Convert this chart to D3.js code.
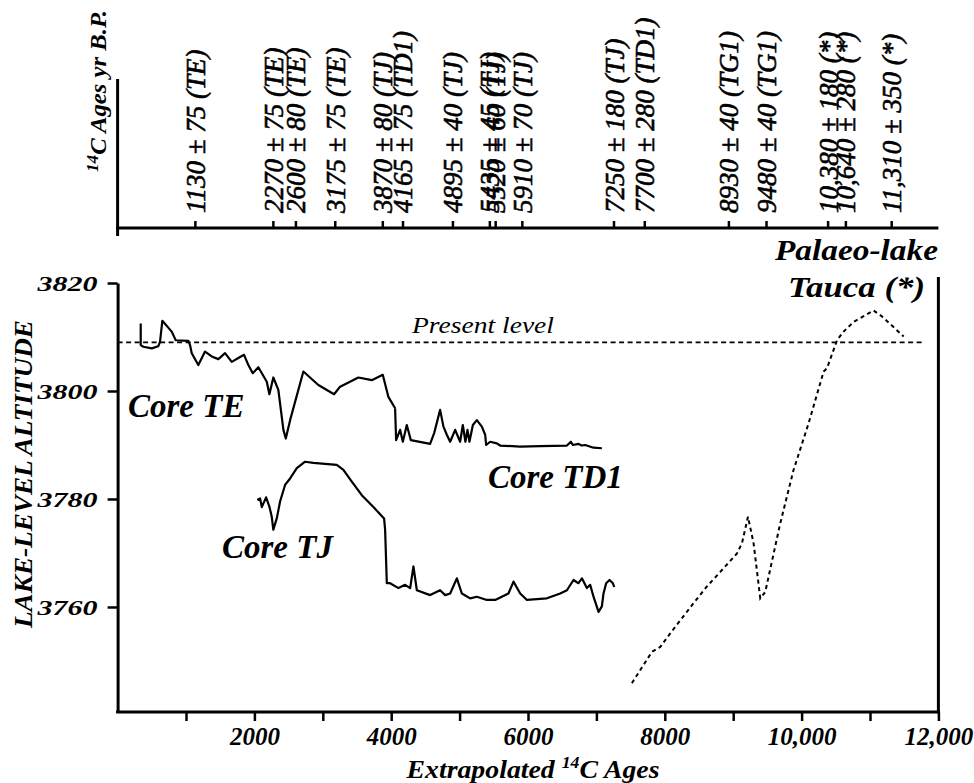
<!DOCTYPE html>
<html><head><meta charset="utf-8">
<script src="https://cdn.jsdelivr.net/npm/d3@7"></script>
<style>
body{margin:0;background:#fff;}
svg{display:block;font-family:"Liberation Serif","Times New Roman",serif;}
</style></head><body>
<svg id="chart" width="974" height="783"></svg>
<script>
// ---------- data ----------
const xTicks = [1000,2000,3000,4000,5000,6000,7000,8000,9000,10000,11000,12000];
const xTickLabels = ["","2000","","4000","","6000","","8000","","10,000","","12,000"];
const yTicks = [3760,3780,3800,3820];
const yTickLabels = ["3760","3780","3800","3820"];
const dateAges = [1130,2270,2600,3175,3870,4165,4895,5435,5520,5910,7250,7700,8930,9480,10380,10640,11310];
const dateLabels = ["1130 ± 75 (TE)","2270 ± 75 (TE)","2600 ± 80 (TE)","3175 ± 75 (TE)","3870 ± 80 (TJ)",
  "4165 ± 75 (TD1)","4895 ± 40 (TJ)","5435 ± 45 (TJ)","5520 ± 60 (TJ)","5910 ± 70 (TJ)",
  "7250 ± 180 (TJ)","7700 ± 280 (TD1)","8930 ± 40 (TG1)","9480 ± 40 (TG1)",
  "10,380 ± 180 (*)","10,640 ± 280 (*)","11,310 ± 350 (*)"];
const presentLevel = 3809;
const presentLevelSpan = [0, 11760];

// [age, level]
const coreTE = [[338,3812.5],[338,3808.5],[376,3808.2],[499,3807.9],[595,3808.3],[620,3809.1],[654,3813.0],
  [791,3811.0],[850,3809.4],[1034,3809.3],[1059,3808.5],[1084,3807.0],[1180,3804.8],[1278,3807.3],
  [1376,3806.4],[1473,3805.9],[1571,3807.0],[1669,3805.4],[1765,3806.1],[1849,3806.7],[1912,3804.8],
  [1976,3803.3],[2058,3804.4],[2181,3801.7],[2219,3799.4],[2277,3802.5],[2350,3800.2],[2424,3792.8],
  [2459,3791.2],[2522,3794.6],[2716,3803.6],[2935,3801.1],[3165,3799.4],[3253,3800.8],[3520,3802.5],
  [3716,3802.0],[3877,3803.0],[3959,3798.9],[4057,3796.8]];
const coreTD1 = [[4057,3796.8],[4072,3790.9],[4130,3792.8],[4170,3790.6],[4228,3793.7],[4287,3790.9],
  [4569,3790.2],[4628,3792.2],[4715,3796.5],[4764,3793.4],[4813,3791.9],[4862,3790.6],[4935,3792.8],
  [5008,3790.6],[5047,3793.7],[5085,3790.6],[5115,3792.8],[5144,3790.6],[5194,3793.7],[5252,3794.6],
  [5325,3793.4],[5374,3791.9],[5388,3790.0],[5447,3790.6],[5545,3790.3],[5593,3789.9],[5885,3789.7],
  [6178,3789.8],[6569,3789.9],[6627,3790.6],[6656,3790.0],[6738,3790.2],[6788,3789.9],[6836,3790.0],
  [6958,3789.5],[7080,3789.4]];
const coreTJ = [[2043,3779.8],[2083,3780.1],[2108,3778.5],[2171,3780.3],[2219,3778.6],[2254,3776.7],
  [2277,3774.3],[2327,3776.4],[2375,3779.5],[2448,3782.6],[2522,3783.8],[2620,3785.7],[2741,3786.9],
  [2862,3786.7],[3205,3786.3],[3301,3785.4],[3424,3783.2],[3570,3780.7],[3740,3778.5],[3896,3776.4],
  [3911,3774.3],[3936,3764.4],[3984,3764.4],[4106,3763.5],[4203,3764.1],[4277,3763.5],[4325,3767.5],
  [4375,3763.1],[4569,3762.2],[4715,3763.1],[4789,3762.2],[4862,3762.5],[4960,3765.3],[5033,3762.5],
  [5154,3761.6],[5252,3761.9],[5398,3761.3],[5520,3761.3],[5714,3762.5],[5788,3764.7],[5886,3762.5],
  [5984,3761.3],[6276,3761.6],[6471,3762.5],[6569,3763.1],[6665,3765.0],[6738,3764.4],[6788,3765.3],
  [6861,3763.5],[6909,3764.1],[6958,3761.9],[7031,3759.1],[7080,3760.1],[7104,3762.5],[7143,3764.4],
  [7192,3765.0],[7241,3764.4],[7260,3763.7]];
const tauca = [[7519,3745.9],[7812,3751.7],[7933,3752.6],[8079,3755.1],[8420,3760.7],[8616,3763.8],
  [8811,3766.5],[9055,3769.9],[9128,3771.8],[9216,3776.7],[9298,3771.8],[9396,3761.6],[9469,3762.8],
  [9688,3775.5],[9883,3785.4],[10102,3794.0],[10322,3803.6],[10371,3804.2],[10518,3809.4],[10614,3811.0],
  [10760,3812.8],[11053,3814.9],[11176,3813.8],[11492,3810.1]];

// ---------- layout ----------
const svg = d3.select("#chart");
const X0 = 117.6, X1 = 938.4, YB = 712, YT = 283;
const x = d3.scaleLinear().domain([0,12000]).range([X0,X1]);
const y = d3.scaleLinear().domain([3740.55,3820]).range([YB,YT]);
const ink = "#000";

// bottom axis
const gB = svg.append("g").attr("transform",`translate(0,${YB})`)
  .call(d3.axisBottom(x).tickValues(xTicks).tickSize(9).tickSizeOuter(0).tickFormat((d,i)=>xTickLabels[i]));
gB.select(".domain").attr("stroke-width",3).attr("d",`M${X0-1.5},0H${X1+1.5}`);
gB.selectAll(".tick line").attr("stroke-width",2.5);
gB.selectAll(".tick text").attr("y",33).attr("dy",0)
  .style("font-family","'Liberation Serif',serif").style("font-size","25px")
  .style("font-style","italic").style("font-weight","bold").attr("fill",ink);

// left axis
const gL = svg.append("g").attr("transform",`translate(${X0},0)`)
  .call(d3.axisLeft(y).tickValues(yTicks).tickSize(10).tickSizeOuter(0).tickFormat((d,i)=>yTickLabels[i]));
gL.select(".domain").attr("stroke-width",3);
gL.selectAll(".tick line").attr("stroke-width",2.5);
gL.selectAll(".tick text").attr("x",-20).attr("dy","0.33em")
  .attr("textLength",60).attr("lengthAdjust","spacingAndGlyphs")
  .style("font-family","'Liberation Serif',serif").style("font-size","22px")
  .style("font-style","italic").style("font-weight","bold").attr("fill",ink);

// right axis line
svg.append("line").attr("x1",X1).attr("x2",X1).attr("y1",277).attr("y2",YB+1.5)
  .attr("stroke",ink).attr("stroke-width",3);

// top date axis
const YA = 228;
const gT = svg.append("g").attr("transform",`translate(0,${YA})`)
  .call(d3.axisTop(x).tickValues(dateAges).tickSize(7).tickSizeOuter(0).tickFormat((d,i)=>dateLabels[i]));
gT.select(".domain").attr("stroke-width",3).attr("d",`M${X0-1.5},0H${X1}`);
gT.selectAll(".tick line").attr("stroke-width",2.5);
gT.selectAll(".tick text").attr("transform","rotate(-90)").attr("x",15).attr("y",9.5).attr("dy",0)
  .attr("text-anchor","start")
  .style("font-family","'Liberation Serif',serif").style("font-size","27px")
  .style("font-style","italic").attr("fill",ink).attr("stroke",ink).attr("stroke-width",0.6);
svg.append("line").attr("x1",X0).attr("x2",X0).attr("y1",79).attr("y2",236)
  .attr("stroke",ink).attr("stroke-width",3);

// top-left axis title
const tt = svg.append("text").attr("transform","translate(106,172) rotate(-90)")
  .attr("textLength",162).attr("lengthAdjust","spacingAndGlyphs")
  .style("font-size","23px").style("font-style","italic").style("font-weight","bold");
tt.append("tspan").text("14").style("font-size","16px").attr("dy",-8);
tt.append("tspan").text("C Ages  yr B.P.").attr("dy",8);

// present level
svg.append("line").attr("x1",x(presentLevelSpan[0])).attr("x2",x(presentLevelSpan[1]))
  .attr("y1",y(presentLevel)).attr("y2",y(presentLevel))
  .attr("stroke",ink).attr("stroke-width",1.8).attr("stroke-dasharray","5,3.5");

// lines
const line = d3.line().x(d=>x(d[0])).y(d=>y(d[1]));
[coreTE, coreTD1, coreTJ].forEach(s=>{
  svg.append("path").datum(s).attr("d",line).attr("fill","none")
    .attr("stroke",ink).attr("stroke-width",2.2).attr("stroke-linejoin","round");
});
svg.append("path").datum(tauca).attr("d",line).attr("fill","none")
  .attr("stroke",ink).attr("stroke-width",2).attr("stroke-dasharray","4,3.5");

// annotations
function label(txt, px, py, size, opts={}){
  const t = svg.append("text").attr("x",px).attr("y",py).text(txt)
    .style("font-size",size+"px").style("font-style","italic")
    .style("font-weight",opts.normal?"normal":"bold")
    .attr("text-anchor",opts.anchor||"start").attr("fill",ink);
  if(opts.len) t.attr("textLength",opts.len).attr("lengthAdjust","spacingAndGlyphs");
  return t;
}
label("Present  level", 412, 333, 23, {normal:true, len:142});
label("Core TE", 128, 417, 33);
label("Core TD1", 488, 488, 33);
label("Core TJ", 222, 558, 33);
label("Palaeo-lake", 938, 260, 30, {anchor:"end", len:163});
label("Tauca (*)", 925, 297, 30, {anchor:"end", len:137});

// y-axis title
svg.append("text").attr("transform","translate(32,474) rotate(-90)")
  .attr("text-anchor","middle").attr("textLength",308).attr("lengthAdjust","spacingAndGlyphs")
  .style("font-size","26px").style("font-style","italic").style("font-weight","bold")
  .text("LAKE-LEVEL  ALTITUDE");

// x-axis title
const xt = svg.append("text").attr("x",533).attr("y",778).attr("text-anchor","middle")
  .attr("textLength",253).attr("lengthAdjust","spacingAndGlyphs")
  .style("font-size","25px").style("font-style","italic").style("font-weight","bold");
xt.append("tspan").text("Extrapolated  ");
xt.append("tspan").text("14").style("font-size","16px").attr("dy",-10);
xt.append("tspan").text("C Ages").attr("dy",10);
</script>
</body></html>
